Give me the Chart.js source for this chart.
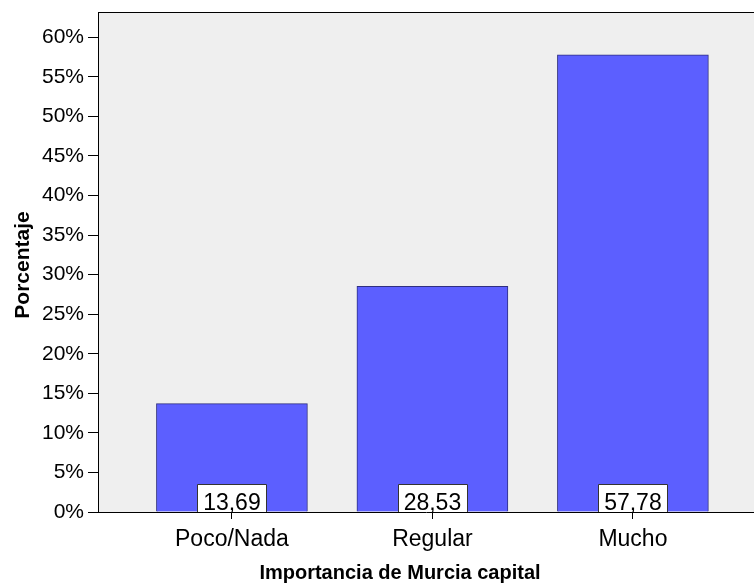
<!DOCTYPE html>
<html>
<head>
<meta charset="utf-8">
<script src="https://cdn.jsdelivr.net/npm/chart.js@4.4.0/dist/chart.umd.min.js"></script>
<style>
html,body{margin:0;padding:0;background:#fff;}
canvas{display:block;}
</style>
</head>
<body>
<canvas id="c" width="754" height="585"></canvas>
<script>
const categories = ["Poco/Nada", "Regular", "Mucho"];
const percentages = [13.69, 28.53, 57.78];
const valueLabels = ["13,69", "28,53", "57,78"];
const xTitle = "Importancia de Murcia capital";
const yTitle = "Porcentaje";

const FONT = "'Liberation Sans', Arial, sans-serif";

const decor = {
  id: 'decor',
  beforeDraw(chart) {
    const {ctx, chartArea: a} = chart;
    ctx.save();
    ctx.fillStyle = '#EFEFEF';
    ctx.fillRect(a.left, a.top, a.right - a.left, a.bottom - a.top);
    ctx.restore();
  },
  afterDatasetsDraw(chart) {
    const {ctx, chartArea: a} = chart;
    const meta = chart.getDatasetMeta(0);
    ctx.save();
    ctx.strokeStyle = '#000';
    ctx.lineWidth = 1;
    ctx.beginPath();
    ctx.moveTo(a.left, a.top + 0.5);
    ctx.lineTo(a.right, a.top + 0.5);
    ctx.stroke();
    meta.data.forEach((bar, i) => {
      const w = 69, h = 28;
      const x0 = Math.round(bar.x - w / 2) + 0.5;
      const y0 = Math.round(a.bottom - h) + 0.5;
      ctx.fillStyle = '#FFFFFF';
      ctx.fillRect(x0, y0, w, a.bottom - y0);
      ctx.strokeStyle = '#333333';
      ctx.beginPath();
      ctx.moveTo(x0, a.bottom);
      ctx.lineTo(x0, y0);
      ctx.lineTo(x0 + w, y0);
      ctx.lineTo(x0 + w, a.bottom);
      ctx.stroke();
      ctx.fillStyle = '#000';
      ctx.font = '23px ' + FONT;
      ctx.textAlign = 'center';
      ctx.textBaseline = 'alphabetic';
      ctx.fillText(valueLabels[i], bar.x, a.bottom - 2);
    });
    ctx.restore();
  },
  afterDraw(chart) {
    const {ctx} = chart;
    ctx.save();
    ctx.fillStyle = '#000';
    ctx.font = 'bold 20px ' + FONT;
    ctx.textAlign = 'center';
    ctx.textBaseline = 'alphabetic';
    ctx.fillText(xTitle, 400, 579);
    ctx.translate(29, 265);
    ctx.rotate(-Math.PI / 2);
    ctx.font = 'bold 21px ' + FONT;
    ctx.fillText(yTitle, 0, 0);
    ctx.restore();
  }
};

new Chart(document.getElementById('c'), {
  type: 'bar',
  data: {
    datasets: [{
      data: percentages.map((v, i) => ({x: i, y: v})),
      backgroundColor: '#5C5FFF',
      borderColor: '#2F2F80',
      borderWidth: 1,
      barThickness: 151
    }]
  },
  options: {
    responsive: false,
    animation: false,
    layout: {padding: {left: 0, right: 0, top: 12, bottom: 0}},
    plugins: {legend: {display: false}, tooltip: {enabled: false}},
    scales: {
      x: {
        type: 'linear',
        min: -0.668,
        max: 2.604,
        offset: false,
        afterBuildTicks(scale) { scale.ticks = [0, 1, 2].map(v => ({value: v})); },
        afterFit(scale) { scale.height = 73; scale.paddingLeft = 0; scale.paddingRight = 0; },
        grid: {offset: false, drawOnChartArea: false, drawTicks: true, tickLength: 7, color: '#000', lineWidth: 1},
        border: {display: true, color: '#000', width: 1},
        ticks: {
          autoSkip: false, maxRotation: 0, minRotation: 0, padding: 7,
          color: '#000', font: {family: FONT, size: 23},
          callback: v => categories[v]
        }
      },
      y: {
        min: 0,
        max: 63.2,
        afterFit(scale) { scale.width = 98; scale.paddingTop = 0; scale.paddingBottom = 0; },
        grid: {drawOnChartArea: false, drawTicks: true, tickLength: 10, color: '#000', lineWidth: 1},
        border: {display: true, color: '#000', width: 1},
        ticks: {
          stepSize: 5, includeBounds: false, padding: 4,
          color: '#000', font: {family: FONT, size: 21},
          callback: v => v + '%'
        }
      }
    }
  },
  plugins: [decor]
});
</script>
</body>
</html>
